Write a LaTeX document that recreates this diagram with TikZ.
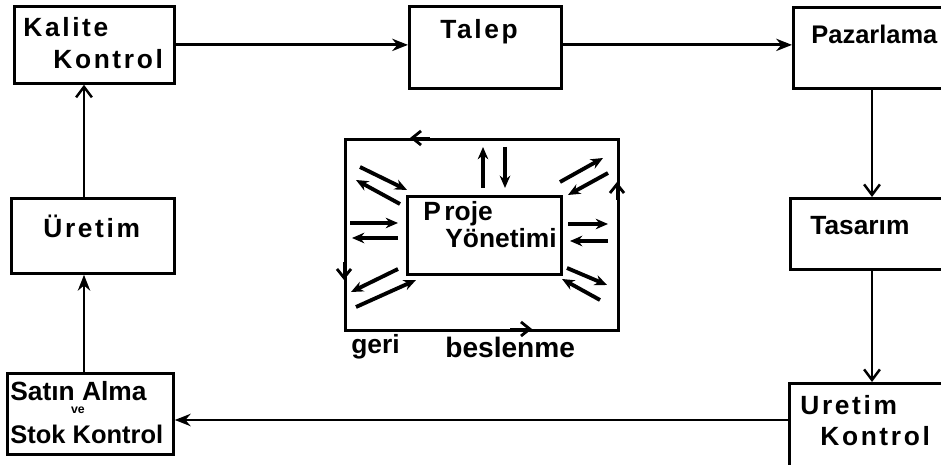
\documentclass[tikz,border=0pt]{standalone}
\usepackage{fontspec}
\setmainfont{Liberation Sans}
\newfontfamily\spaced[LetterSpace=10]{Liberation Sans}
\usetikzlibrary{arrows.meta}
\begin{document}
\begin{tikzpicture}[x=0.02cm,y=-0.02cm,
  box/.style={draw,line width=1.6pt,inner sep=0pt,anchor=north west},
  lbl/.style={anchor=west,inner sep=0pt,font=\bfseries\fontsize{15}{17}\selectfont},
  slbl/.style={anchor=west,inner sep=0pt,font=\spaced\bfseries\fontsize{15}{17}\selectfont},
  conn/.style={line width=1.6pt,-{Stealth[length=9pt,width=7pt]}},
  vconn/.style={line width=1.3pt,-{Straight Barb[length=6pt,width=9pt,line width=1.4pt]}},
  barb/.style={line width=1.6pt,-{Straight Barb[length=5pt,width=8pt,line width=1.6pt]}},
  small/.style={line width=2.2pt,-{Stealth[length=7pt,width=6pt]}}]
\clip (0,0) rectangle (941,465);
\fill[white] (0,0) rectangle (941,465);

% boxes
\node[box,minimum width=3.2cm,minimum height=1.54cm] (kal) at (13,5) {};
\node[box,minimum width=3.04cm,minimum height=1.64cm] (talep) at (408,5) {};
\node[box,minimum width=4.0cm,minimum height=1.62cm] (paz) at (792,6) {};
\node[box,minimum width=4.0cm,minimum height=1.42cm] (tas) at (789,197) {};
\node[box,minimum width=4.0cm,minimum height=2.0cm] (uk) at (788,382) {};
\node[box,minimum width=3.32cm,minimum height=1.62cm] (sat) at (6,372) {};
\node[box,minimum width=3.26cm,minimum height=1.5cm] (ure) at (10,197) {};
\node[box,minimum width=5.46cm,minimum height=3.82cm] (outer) at (344,138) {};
\node[box,minimum width=3.08cm,minimum height=1.56cm] (proje) at (406,195) {};

% texts
\node[slbl] (t1) at (23,27) {Kalite};
\node[slbl] (t2) at (53,59) {Kontrol};
\node[slbl] (t3) at (440,32) {Talep};
\node[lbl,font=\bfseries\fontsize{14.5}{17}\selectfont] (t4) at (811,34) {Pazarlama};
\node[slbl] (t5) at (43,226) {Üretim};
\node[lbl] (t6) at (810,226) {Tasarım};
\node[slbl] (t7) at (800,405) {Uretim};
\node[slbl] (t8) at (820,436) {Kontrol};
\node[lbl] (t9) at (10,391) {Satın Alma};
\node[anchor=center,inner sep=0pt,font=\bfseries\fontsize{7}{8}\selectfont] (t9b) at (78,410) {ve};
\node[lbl,font=\bfseries\fontsize{14.5}{17}\selectfont] (t10) at (10,434) {Stok Kontrol};
\node[lbl] (t11) at (423,214) {P\kern2pt roje};
\node[lbl] (t12) at (445,238) {Yönetimi};
\node[lbl] (t13) at (351,347) {geri};
\node[lbl,font=\bfseries\fontsize{16}{18}\selectfont] (t14) at (445,347) {beslenme};

% main connectors
\coordinate (cx) at (872,0);
\coordinate (cy) at (0,420);
\coordinate (lx) at (84,0);
\draw[conn] (kal.east) -- (kal.east -| talep.west);
\draw[conn] (talep.east |- kal.east) -- (kal.east -| paz.west);
\draw[vconn] (paz.south -| cx) -- (tas.north -| cx);
\draw[vconn] (tas.south -| cx) -- (uk.north -| cx);
\draw[conn] (uk.west |- cy) -- (sat.east |- cy);
\draw[conn] (sat.north -| lx) -- (ure.south -| lx);
\draw[vconn] (ure.north -| lx) -- (kal.south -| lx);

% feedback loop direction marks
\coordinate (a1) at (430,138); \coordinate (a2) at (410,138);
\coordinate (b1) at (344,262); \coordinate (b2) at (344,280);
\coordinate (c1) at (510,329); \coordinate (c2) at (532,329);
\coordinate (d1) at (617,200); \coordinate (d2) at (617,182);
\draw[barb] (a1) -- (a2);
\draw[barb] (b1) -- (b2);
\draw[barb] (c1) -- (c2);
\draw[barb] (d1) -- (d2);

% small arrows around Proje Yonetimi
\draw[small] (483,188) -- (483,147);
\draw[small] (505,147) -- (505,188);
\draw[small] (360,167) -- (407,190);
\draw[small] (400,204) -- (356,180);
\draw[small] (350,223) -- (398,223);
\draw[small] (398,238) -- (352,238);
\draw[small] (398,269) -- (351,292);
\draw[small] (356,307) -- (416,280);
\draw[small] (560,182) -- (603,158);
\draw[small] (608,173) -- (568,195);
\draw[small] (568,224) -- (608,224);
\draw[small] (608,241) -- (570,241);
\draw[small] (567,268) -- (607,285);
\draw[small] (600,300) -- (562,279);
\end{tikzpicture}
\end{document}
